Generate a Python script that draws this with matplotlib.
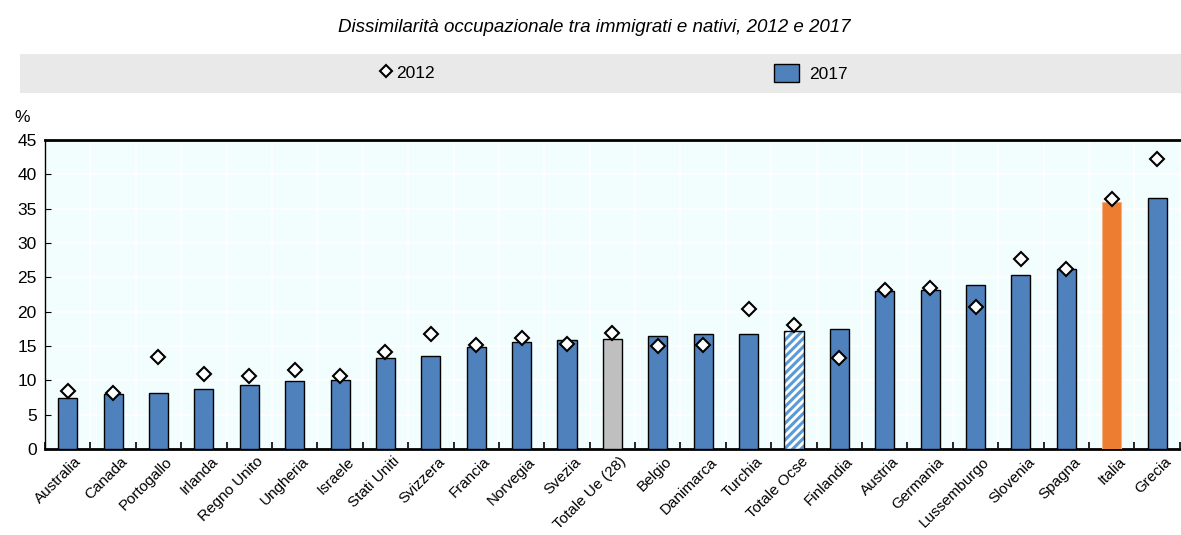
import numpy as np
import matplotlib
matplotlib.use("Agg")
from matplotlib import pyplot as plt
from matplotlib.patches import Rectangle, Patch
from matplotlib.lines import Line2D

plt.rcParams['font.family'] = ['Liberation Sans', 'DejaVu Sans']
plt.rcParams['hatch.linewidth'] = 2.2

# data
countries = ["Australia", "Canada", "Portogallo", "Irlanda", "Regno Unito", "Ungheria",
             "Israele", "Stati Uniti", "Svizzera", "Francia", "Norvegia", "Svezia",
             "Totale Ue (28)", "Belgio", "Danimarca", "Turchia", "Totale Ocse", "Finlandia",
             "Austria", "Germania", "Lussemburgo", "Slovenia", "Spagna", "Italia", "Grecia"]
val_2017 = [7.5, 8.0, 8.1, 8.7, 9.3, 9.9, 10.0, 13.3, 13.6, 14.9, 15.6, 15.9,
            16.0, 16.5, 16.7, 16.8, 17.2, 17.5, 23.0, 23.2, 23.9, 25.4, 26.3, 36.0, 36.6]
val_2012 = [8.5, 8.2, 13.4, 11.0, 10.6, 11.5, 10.7, 14.2, 16.7, 15.1, 16.2, 15.3,
            16.9, 15.0, 15.2, 20.4, 18.1, 13.2, 23.2, 23.5, 20.7, 27.7, 26.2, 36.4, 42.3]

title = "Dissimilarità occupazionale tra immigrati e nativi, 2012 e 2017"
blue = "#4F81BD"
orange = "#ED7D31"
grey = "#BFBFBF"
hatch_blue = "#5B9BD5"

fig = plt.figure(figsize=(11.81, 5.35), dpi=100)
ax = fig.add_axes([0.0381, 0.1607, 0.9609, 0.5773])
ax.set_facecolor("#F2FEFE")

x = np.arange(len(countries))
bw = 0.42
for i, (name, v) in enumerate(zip(countries, val_2017)):
    if name == "Italia":
        ax.bar(i, v, bw, color=orange, edgecolor="#F4B183", linewidth=0.8, zorder=3)
    elif name == "Totale Ue (28)":
        ax.bar(i, v, bw, color=grey, edgecolor="black", linewidth=1, zorder=3)
    elif name == "Totale Ocse":
        ax.bar(i, v, bw, color="white", edgecolor=hatch_blue, hatch="////", linewidth=0, zorder=3)
        ax.bar(i, v, bw, color="none", edgecolor="black", linewidth=1, zorder=3)
    else:
        ax.bar(i, v, bw, color=blue, edgecolor="black", linewidth=1, zorder=3)

ax.plot(x, val_2012, linestyle="none", marker="D", markersize=7.5,
        markerfacecolor="white", markeredgecolor="black", markeredgewidth=1.5, zorder=4)

ax.set_xlim(-0.5, len(countries) - 0.5)
ax.set_ylim(0, 45)
ax.set_yticks(np.arange(0, 50, 5))
ax.set_xticks(x + 0.15)
ax.set_xticklabels(countries, rotation=45, ha="right", rotation_mode="anchor", fontsize=11)
ax.set_xticks(np.arange(-0.5, len(countries), 1), minor=True)
ax.tick_params(axis="x", which="major", length=0, pad=4)
ax.tick_params(axis="x", which="minor", length=5, width=1.2, direction="in", color="black")
ax.tick_params(axis="y", length=4, direction="in", labelsize=12.5, pad=6)

ax.grid(axis="y", color="white", linewidth=1.2, zorder=1)
ax.grid(axis="x", which="minor", color="white", linewidth=1.2, zorder=1)
ax.set_axisbelow(True)

for side in ["top", "bottom"]:
    ax.spines[side].set_linewidth(2)
ax.spines["left"].set_linewidth(1)
ax.spines["right"].set_visible(False)

fig.text(0.012, 0.78, "%", fontsize=12.5, ha="left", va="center")
fig.text(0.503, 0.948, title, fontsize=13.5, style="italic", ha="center", va="center")

# legend band
fig.patches.append(Rectangle((20 / 1181, 1 - 93 / 535), 1161 / 1181, 39 / 535,
                             transform=fig.transFigure, facecolor="#E9E9E9",
                             edgecolor="none", zorder=0))
h1 = Line2D([], [], linestyle="none", marker="D", markersize=6, markerfacecolor="white",
            markeredgecolor="black", markeredgewidth=1.5)
h2 = Patch(facecolor=blue, edgecolor="black", linewidth=1)
fig.legend([h1], ["2012"], loc="center", bbox_to_anchor=(408 / 1181, 1 - 73 / 535),
           frameon=False, fontsize=12.5, handlelength=0.6, handletextpad=0.3)
fig.legend([h2], ["2017"], loc="center", bbox_to_anchor=(811 / 1181, 1 - 73 / 535),
           frameon=False, fontsize=12.5, handlelength=1.4, handleheight=1.2, handletextpad=0.6)

fig.savefig("out.png", dpi=100)
